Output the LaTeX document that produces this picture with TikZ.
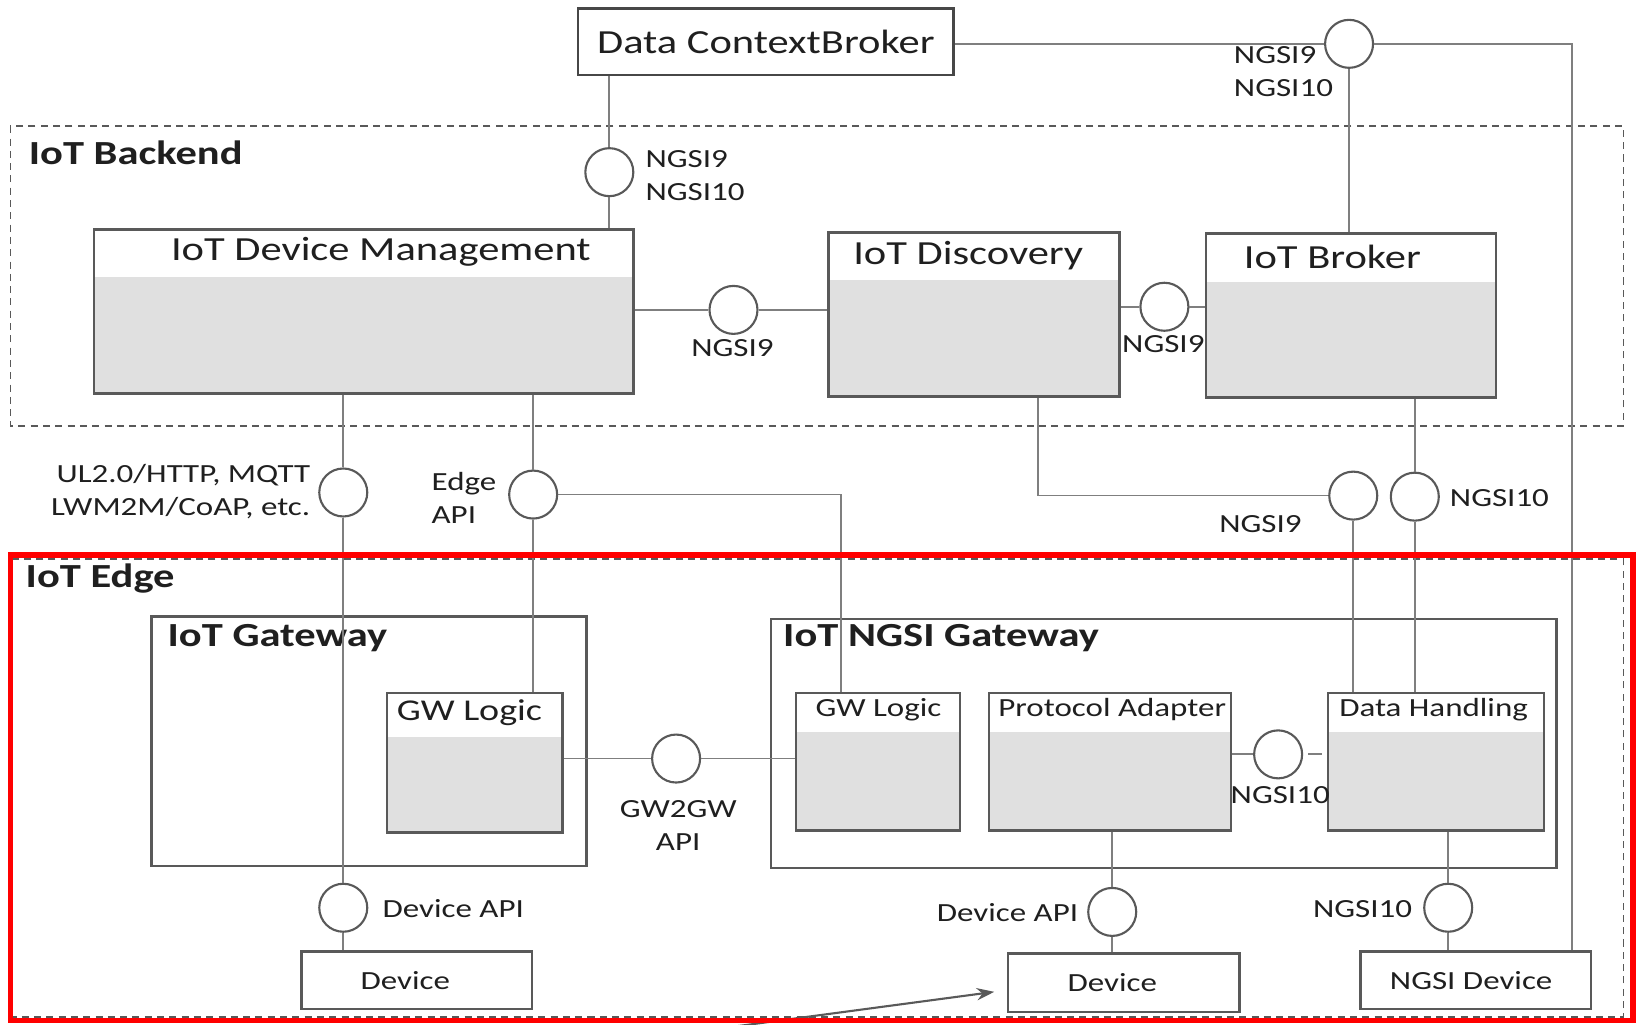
\documentclass[tikz,border=0pt]{standalone}
\usepackage{fontspec}
\setmainfont{Carlito}[FakeStretch=1.26]
\usetikzlibrary{arrows.meta}

\newdimen\px
\px=0.010434cm

\definecolor{boxline}{HTML}{595959}
\definecolor{wirecol}{HTML}{7F7F7F}
\definecolor{boxgrey}{HTML}{E0E0E0}
\definecolor{txtcol}{HTML}{1F1F1F}
\definecolor{edgered}{HTML}{FF0000}

\tikzset{
  big/.style={text=txtcol, inner sep=0pt, font=\fontsize{9.6}{12}\selectfont},
  mid/.style={text=txtcol, inner sep=0pt, font=\fontsize{8.6}{11}\selectfont},
  small/.style={text=txtcol, inner sep=0pt, font=\fontsize{7.45}{9.5}\selectfont},
  head/.style={text=txtcol, inner sep=0pt, anchor=west, font=\fontsize{9.6}{12}\selectfont\bfseries},
  plainbox/.style={draw=boxline, line width=0.7pt, inner sep=0pt},
  compbox/.style={plainbox, fill=white,
    path picture={\fill[boxgrey] ([yshift=-#1\px]path picture bounding box.north west)
      rectangle (path picture bounding box.south east);}},
  iface/.style={circle, draw=boxline, line width=0.6pt, fill=white, minimum size=46\px, inner sep=0pt},
  wire/.style={draw=wirecol, line width=0.5pt},
  zone/.style={draw=boxline, line width=0.5pt, dash pattern=on 2pt off 1.5pt},
}

\begin{document}
\begin{tikzpicture}[x=0.010434cm, y=-0.010434cm]
    \useasboundingbox (0,0) rectangle (1568,982);

    % Bereiche
    \draw[zone] (10,121) rectangle (1556,408);
    \node[head] (backendT) at (27,146) {IoT Backend};
    \draw[zone] (12,536) rectangle (1556,975);

    % Broker oben
    \node[plainbox, draw=boxline!80!black, minimum width=360\px, minimum height=64\px, big] (dcb) at (734,40) {Data ContextBroker};

    % Backend-Komponenten
    \node[compbox=45, minimum width=517\px, minimum height=157\px] (idm) at (348.5,298.5) {};
    \node[big] (idmT) at (365,241) {IoT Device Management};
    \node[compbox=45, minimum width=279\px, minimum height=157\px] (disc) at (933.5,301.5) {};
    \node[big] (discT) at (928,245) {IoT Discovery};
    \node[compbox=46, minimum width=278\px, minimum height=157\px] (brk) at (1295,302.5) {};
    \node[big] (brkT) at (1277,246) {IoT Broker};

    % Gateways
    \node[plainbox, minimum width=417\px, minimum height=239\px] (gw) at (353.5,710.5) {};
    \node[head] (gwT) at (160,612) {IoT Gateway};
    \node[compbox=42, minimum width=168\px, minimum height=134\px] (gwl) at (455,731) {};
    \node[mid] (gwlT) at (450,683) {GW Logic};

    \node[plainbox, minimum width=753\px, minimum height=239\px] (ngsigw) at (1115.5,712.5) {};
    \node[head] (ngsigwT) at (750,612) {IoT NGSI Gateway};
    \node[compbox=38, minimum width=157\px, minimum height=132\px] (ngw) at (841.5,730) {};
    \node[small] (ngwT) at (842,680) {GW Logic};
    \node[compbox=38, minimum width=232\px, minimum height=132\px] (pa) at (1064,730) {};
    \node[small] (paT) at (1066,680) {Protocol Adapter};
    \node[compbox=38, minimum width=207\px, minimum height=132\px] (dh) at (1376.5,730) {};
    \node[small] (dhT) at (1374,680) {Data Handling};

    % Geraete
    \node[plainbox, minimum width=221\px, minimum height=55\px, small] (devl) at (399.5,939.5) {\hspace*{-22\px}Device};
    \node[plainbox, minimum width=222\px, minimum height=56\px, small] (devr) at (1077,942) {\hspace*{-22\px}Device};
    \node[plainbox, minimum width=221\px, minimum height=55\px, small] (ngsidev) at (1414.5,939.5) {\hspace*{-9\px}NGSI Device};

    % Schnittstellen
    \node[iface] (cdcb) at (584,165) {};
    \node[iface] (ctop) at (1293,42) {};
    \node[iface] (cdd) at (703,297) {};
    \node[iface] (cdb) at (1116,294) {};
    \node[iface] (cul) at (329,472) {};
    \node[iface] (cedge) at (511,474) {};
    \node[iface] (c9b) at (1297,475) {};
    \node[iface] (c10b) at (1356,476) {};
    \node[iface] (cgw) at (648,727) {};
    \node[iface] (cpd) at (1225,723) {};
    \node[iface] (cdevl) at (329,870) {};
    \node[iface] (cpa) at (1066,874) {};
    \node[iface] (cdh) at (1388,870) {};

    \coordinate (topbend) at (1507,42);
    \coordinate (edgebend) at (806,474);
    \coordinate (discbend) at (995,475);
    \coordinate (arrtail) at (703,984);

    % Verbindungen
    \draw[wire] (dcb.south -| cdcb) -- (cdcb) -- (cdcb |- idm.north);
    \draw[wire] (dcb.east |- ctop) -- (ctop) -- (topbend) -- (topbend |- ngsidev.north);
    \draw[wire] (ctop) -- (ctop |- brk.north);
    \draw[wire] (cdd -| idm.east) -- (cdd) -- (cdd -| disc.west);
    \draw[wire] (cdb -| disc.east) -- (cdb) -- (cdb -| brk.west);
    \draw[wire] (cul |- idm.south) -- (cul) -- (cdevl) -- (cdevl |- devl.north);
    \draw[wire] (cedge |- idm.south) -- (cedge) -- (cedge |- gwl.north);
    \draw[wire] (cedge) -- (edgebend) -- (edgebend |- ngw.north);
    \draw[wire] (discbend |- disc.south) -- (discbend) -- (c9b);
    \draw[wire] (c9b) -- (c9b |- dh.north);
    \draw[wire] (c10b |- brk.south) -- (c10b) -- (c10b |- dh.north);
    \draw[wire] (cgw -| gwl.east) -- (cgw) -- (cgw -| ngw.west);
    \draw[wire, shorten <=5\px, shorten >=5\px] (cpd -| pa.east) -- (cpd) -- (cpd -| dh.west);
    \draw[wire] (cpa |- pa.south) -- (cpa) -- (cpa |- devr.north);
    \draw[wire] (cdh |- dh.south) -- (cdh) -- (cdh |- ngsidev.north);
    \draw[draw=boxline, line width=0.6pt, -{Stealth[length=5pt, width=3.5pt]}, shorten >=12\px]
        (arrtail) -- ([yshift=-7\px]devr.west);

    % Beschriftungen
    \node[small, align=left, anchor=north west] (lblTop) at (1182,44) {NGSI9\\NGSI10};
    \node[small, align=left, anchor=west] (lblDcb) at (618,168) {NGSI9\\NGSI10};
    \node[small] (lblDd) at (702,334) {NGSI9};
    \node[small] (lblDb) at (1115,330) {NGSI9};
    \node[small, align=right, anchor=east] (lblUl) at (298,471) {UL2.0/HTTP, MQTT\\LWM2M/CoAP, etc.};
    \node[small, align=left, anchor=west] (lblEdge) at (413,477) {Edge\\API};
    \node[small] (lbl9b) at (1208,502) {NGSI9};
    \node[small, anchor=west] (lbl10b) at (1389,477) {NGSI10};
    \node[small, align=center] (lblGw) at (650,791) {GW2GW\\API};
    \node[small] (lblPd) at (1227,762) {NGSI10};
    \node[small, anchor=west] (lblDevl) at (366,871) {Device API};
    \node[small, anchor=east] (lblDevr) at (1034,875) {Device API};
    \node[small, anchor=east] (lblDh) at (1354,871) {NGSI10};

    % Rahmen IoT Edge
    \draw[edgered, line width=1.5pt] (10,532) rectangle (1565,978);
    \node[head] (edgeT) at (24,554) {IoT Edge};
\end{tikzpicture}
\end{document}
